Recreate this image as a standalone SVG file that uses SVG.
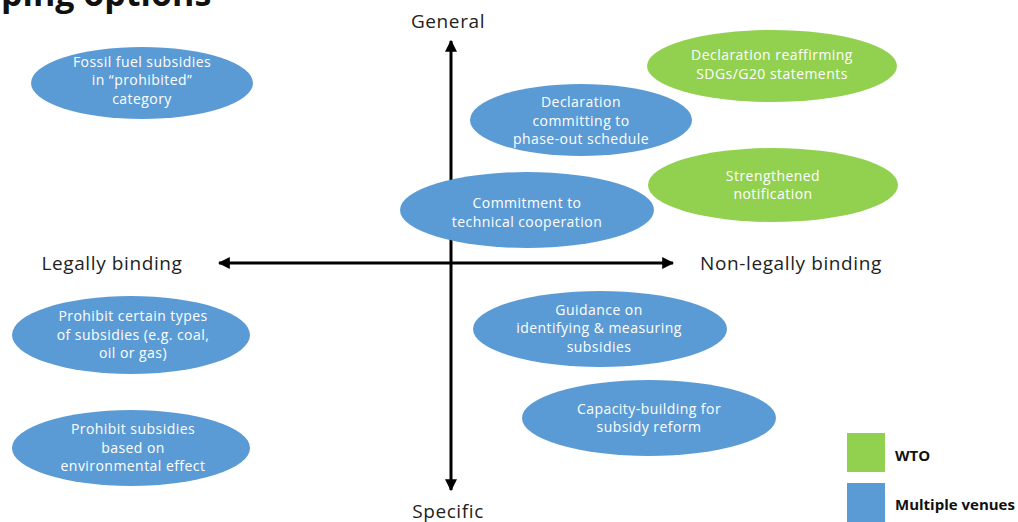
<svg xmlns="http://www.w3.org/2000/svg" width="1018" height="522" viewBox="0 0 1018 522">
<style>
.blue{fill:#5b9bd5}
.green{fill:#92d050}
.t{font-family:"Open Sans","Liberation Sans",Arial,sans-serif;font-size:14px;letter-spacing:0.45px;fill:#ffffff;text-anchor:middle}
.ax{font-family:"Open Sans","Liberation Sans",Arial,sans-serif;font-size:19px;letter-spacing:0.6px;fill:#222222}
.lg{font-family:"Open Sans","Liberation Sans",Arial,sans-serif;font-size:15px;font-weight:bold;fill:#111111}
.title{font-family:"Open Sans","Liberation Sans",Arial,sans-serif;font-size:34px;font-weight:bold;fill:#111111}
.axis{stroke:#000000;stroke-width:3;fill:none}
</style>
<defs>
<marker id="ah" viewBox="0 0 10 10" refX="9" refY="5" markerWidth="4" markerHeight="4" orient="auto-start-reverse">
<path d="M0,0 L10,5 L0,10 z" fill="#000000"/>
</marker>
</defs>
<text class="title" x="1" y="6">ping options</text>
<g id="connectors">
<line class="axis" x1="451" y1="490" x2="451" y2="41" marker-start="url(#ah)" marker-end="url(#ah)"/>
<line class="axis" x1="219" y1="263" x2="673" y2="263" marker-start="url(#ah)" marker-end="url(#ah)"/>
</g>
<g id="axis-labels">
<text class="ax" x="448" y="28" text-anchor="middle">General</text>
<text class="ax" x="448" y="518" text-anchor="middle">Specific</text>
<text class="ax" x="112" y="270" text-anchor="middle">Legally binding</text>
<text class="ax" x="791" y="270" text-anchor="middle">Non-legally binding</text>
</g>
<g id="n1">
<ellipse class="blue" cx="142" cy="83" rx="111" ry="36"/>
<text class="t" x="142" y="67">Fossil fuel subsidies</text>
<text class="t" x="142" y="85">in “prohibited”</text>
<text class="t" x="142" y="104">category</text>
</g>
<g id="n2">
<ellipse class="blue" cx="581" cy="120" rx="111" ry="36"/>
<text class="t" x="581" y="107">Declaration</text>
<text class="t" x="581" y="126">committing to</text>
<text class="t" x="581" y="144">phase-out schedule</text>
</g>
<g id="n3">
<ellipse class="green" cx="772" cy="66" rx="125" ry="36"/>
<text class="t" x="772" y="60">Declaration reaffirming</text>
<text class="t" x="772" y="79">SDGs/G20 statements</text>
</g>
<g id="n4">
<ellipse class="green" cx="773" cy="185" rx="125" ry="37"/>
<text class="t" x="773" y="181">Strengthened</text>
<text class="t" x="773" y="199">notification</text>
</g>
<g id="n5">
<ellipse class="blue" cx="527" cy="210" rx="127" ry="38"/>
<text class="t" x="527" y="208">Commitment to</text>
<text class="t" x="527" y="227">technical cooperation</text>
</g>
<g id="n6">
<ellipse class="blue" cx="131" cy="335" rx="119" ry="39"/>
<text class="t" x="133" y="321">Prohibit certain types</text>
<text class="t" x="133" y="340">of subsidies (e.g. coal,</text>
<text class="t" x="133" y="358">oil or gas)</text>
</g>
<g id="n7">
<ellipse class="blue" cx="131" cy="448" rx="119" ry="38"/>
<text class="t" x="133" y="434">Prohibit subsidies</text>
<text class="t" x="133" y="453">based on</text>
<text class="t" x="133" y="471">environmental effect</text>
</g>
<g id="n8">
<ellipse class="blue" cx="600" cy="329" rx="127" ry="38"/>
<text class="t" x="599" y="315">Guidance on</text>
<text class="t" x="599" y="333">identifying &amp; measuring</text>
<text class="t" x="599" y="352">subsidies</text>
</g>
<g id="n9">
<ellipse class="blue" cx="649" cy="418" rx="127" ry="38"/>
<text class="t" x="649" y="414">Capacity-building  for</text>
<text class="t" x="649" y="432">subsidy reform</text>
</g>
<g id="legend">
<rect class="green" x="847" y="433" width="38" height="39"/>
<rect class="blue" x="847" y="483" width="38" height="39"/>
<text class="lg" x="895" y="461">WTO</text>
<text class="lg" x="895" y="510">Multiple venues</text>
</g>
</svg>
